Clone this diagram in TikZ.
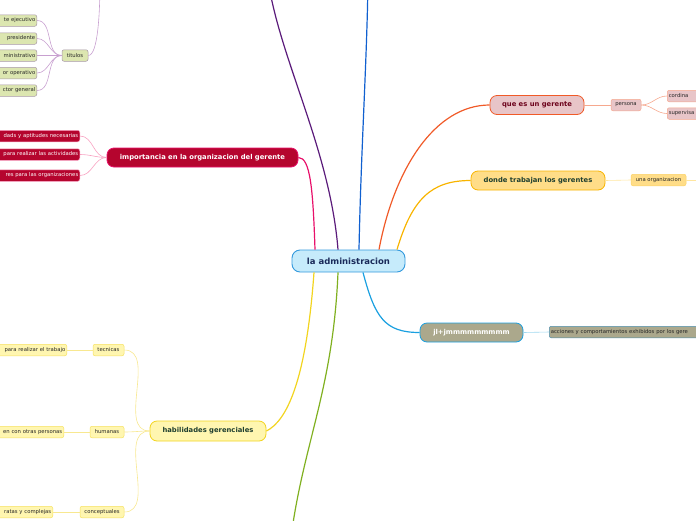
\documentclass[tikz,border=0pt]{standalone}
\usepackage{fontspec}
\setmainfont{DejaVu Sans}
\usepackage{xcolor}
\usetikzlibrary{positioning}
\definecolor{rootfill}{HTML}{C6EBFB}
\definecolor{rootline}{HTML}{3399DD}
\definecolor{roottext}{HTML}{1A2A5A}
\definecolor{quefill}{HTML}{E8C5C8}
\definecolor{queline}{HTML}{F05A28}
\definecolor{quelight}{HTML}{F6A88E}
\definecolor{dondefill}{HTML}{FFDD88}
\definecolor{dondeline}{HTML}{F8B400}
\definecolor{dondelight}{HTML}{FFE6A0}
\definecolor{jlfill}{HTML}{ABA88C}
\definecolor{jlline}{HTML}{1AA0E0}
\definecolor{jllight}{HTML}{A0D8F0}
\definecolor{habfill}{HTML}{FFF6B0}
\definecolor{habline}{HTML}{F2D41E}
\definecolor{hablight}{HTML}{F8E890}
\definecolor{impfill}{HTML}{B5052E}
\definecolor{impline}{HTML}{E8106A}
\definecolor{implight}{HTML}{F8A0C0}
\definecolor{titfill}{HTML}{DCE6B0}
\definecolor{titline}{HTML}{A898A8}
\definecolor{titlight}{HTML}{C8A0D0}
\definecolor{purpleline}{HTML}{5A1A7A}
\definecolor{blueline}{HTML}{1060D0}
\definecolor{greenline}{HTML}{80B020}
\definecolor{darkgreen}{HTML}{1F3F2F}
\tikzset{
  root/.style={rectangle, draw=rootline, fill=rootfill, rounded corners=8pt, line width=0.9pt, text=roottext, font=\fontsize{8.5}{9}\selectfont\bfseries, minimum width=113pt, minimum height=22pt, inner sep=2pt},
  topic/.style={rectangle, rounded corners=7pt, line width=0.8pt, font=\fontsize{6.8}{7}\selectfont\bfseries, minimum height=19pt, inner sep=2pt},
  leaf/.style={rectangle, rounded corners=2pt, line width=0.5pt, text=black!85, font=\fontsize{5.3}{6}\selectfont, minimum height=11.5pt, inner sep=1.5pt},
  cutleft/.style={anchor=east, text width=100pt, align=right},
  cutright/.style={anchor=west, text width=200pt, align=left},
  queleaf/.style={leaf, fill=quefill, draw=quelight},
  dondeleaf/.style={leaf, fill=dondefill, draw=dondeline!60},
  jlleaf/.style={leaf, fill=jlfill, draw=jlline!50!gray},
  hableaf/.style={leaf, fill=habfill, draw=habline!70},
  impleaf/.style={leaf, fill=impfill, draw=implight, text=white},
  titleaf/.style={leaf, fill=titfill, draw=titline},
  branch/.style={line width=1.2pt},
  twig/.style={line width=0.6pt},
}
\begin{document}
\begin{tikzpicture}[x=1pt, y=-1pt]
        \useasboundingbox (0,0) rectangle (696,520);
        \clip (0,0) rectangle (696,520);

        % Central topic
        \node[root] (admin) at (348.5,261) {la administracion};

        % que es un gerente
        \node[topic, fill=quefill, draw=queline, text=impfill!60!black, minimum width=94pt] (que) at (537,105) {que es un gerente};
        \node[queleaf, minimum width=30pt] (persona) at (626,105) {persona};
        \node[queleaf, cutright] (cordina) at (667,96) {cordina};
        \node[queleaf, cutright] (supervisa) at (667,113.5) {supervisa};

        % donde trabajan los gerentes
        \node[topic, fill=dondefill, draw=dondeline, text=darkgreen, minimum width=134pt] (donde) at (538,180.5) {donde trabajan los gerentes};
        \node[dondeleaf, minimum width=55pt] (org) at (658.5,180) {una organizacion};
        \coordinate (orgnext) at (720,180);

        % jl+jmmmmmmmmm
        \node[topic, fill=jlfill, draw=jlline, text=white, minimum width=103pt] (jl) at (471.5,332.5) {jl+jmmmmmmmmm};
        \node[jlleaf, cutright] (acciones) at (549,332) {acciones y comportamientos exhibidos por los gere};

        % habilidades gerenciales
        \node[topic, fill=habfill, draw=habline, text=darkgreen, minimum width=116pt, minimum height=20pt] (habil) at (208,431) {habilidades gerenciales};
        \node[hableaf, minimum width=31pt] (tecnicas) at (108.5,350) {tecnicas};
        \node[hableaf, minimum width=34pt] (humanas) at (107,432) {humanas};
        \node[hableaf, minimum width=44pt] (concep) at (102,512) {conceptuales};
        \node[hableaf, cutleft] (trabajo) at (67,350) {para realizar el trabajo};
        \node[hableaf, cutleft] (personas) at (64,432) {en con otras personas};
        \node[hableaf, cutleft] (complejas) at (53,512) {ratas y complejas};

        % importancia en la organizacion del gerente
        \node[topic, fill=impfill, draw=impline, text=white, minimum width=191pt] (imp) at (202.5,157.5) {importancia en la organizacion del gerente};
        \node[impleaf, cutleft] (aptitudes) at (80,136) {dads y aptitudes necesarias};
        \node[impleaf, cutleft] (actividades) at (80,154.5) {para realizar las actividades};
        \node[impleaf, cutleft] (organizaciones) at (80,175.5) {res para las organizaciones};

        % titulos
        \node[titleaf, minimum width=26pt] (titulos) at (75,55.5) {titulos};
        \node[titleaf, cutleft] (ejecutivo) at (37,20.5) {te ejecutivo};
        \node[titleaf, cutleft] (presidente) at (37,38.5) {presidente};
        \node[titleaf, cutleft] (administrativo) at (37,55.5) {ministrativo};
        \node[titleaf, cutleft] (operativo) at (37,73) {or operativo};
        \node[titleaf, cutleft] (general) at (37,90.5) {ctor general};

        % topics outside the frame
        \coordinate (toppurple) at (268,-20);
        \coordinate (topblue) at (368,-20);
        \coordinate (toptitulos) at (100,-20);
        \coordinate (botgreen) at (290,545);

        % Main branches
        \draw[branch, impline] (imp.east) .. controls +(12,0) and +(-2,-60) .. ([xshift=-33.5pt]admin.north);
        \draw[branch, purpleline] ([xshift=-10.5pt]admin.north) .. controls +(-8,-100) and +(12,80) .. (toppurple);
        \draw[branch, blueline] ([xshift=10.5pt]admin.north) .. controls +(2,-100) and +(-1,80) .. (topblue);
        \draw[branch, queline] ([xshift=30.5pt]admin.north) .. controls +(15,-80) and +(-55,0) .. (que.west);
        \draw[branch, dondeline] ([xshift=48.5pt]admin.north) .. controls +(15,-50) and +(-40,0) .. (donde.west);
        \draw[branch, jlline] ([xshift=14.5pt]admin.south) .. controls +(12,45) and +(-35,0) .. (jl.west);
        \draw[branch, habline] ([xshift=-34.5pt]admin.south) .. controls +(-8,110) and +(20,-10) .. (habil.east);
        \draw[branch, greenline] ([xshift=-10.5pt]admin.south) .. controls +(-5,120) and +(12,-100) .. (botgreen);
        \draw[twig, titlight] (titulos.east) .. controls +(10,0) and +(0,30) .. (toptitulos);

        % Sub branches
        \draw[twig, quelight] (que.east) -- (persona.west);
        \draw[twig, quelight] (persona.east) to[out=0, in=180] (cordina.west);
        \draw[twig, quelight] (persona.east) to[out=0, in=180] (supervisa.west);
        \draw[twig, dondelight] (donde.east) -- (org.west);
        \draw[twig, dondelight] (org.east) -- (orgnext);
        \draw[twig, jllight] (jl.east) -- (acciones.west);
        \draw[twig, hablight] (habil.west) to[out=180, in=0] (tecnicas.east);
        \draw[twig, hablight] (habil.west) to[out=180, in=0] (humanas.east);
        \draw[twig, hablight] (habil.west) to[out=180, in=0] (concep.east);
        \draw[twig, hablight] (tecnicas.west) -- (trabajo.east);
        \draw[twig, hablight] (humanas.west) -- (personas.east);
        \draw[twig, hablight] (concep.west) -- (complejas.east);
        \draw[twig, implight] (imp.west) to[out=180, in=0] (aptitudes.east);
        \draw[twig, implight] (imp.west) to[out=180, in=0] (actividades.east);
        \draw[twig, implight] (imp.west) to[out=180, in=0] (organizaciones.east);
        \draw[twig, titlight] (titulos.west) to[out=180, in=0] (ejecutivo.east);
        \draw[twig, titlight] (titulos.west) to[out=180, in=0] (presidente.east);
        \draw[twig, titlight] (titulos.west) to[out=180, in=0] (administrativo.east);
        \draw[twig, titlight] (titulos.west) to[out=180, in=0] (operativo.east);
        \draw[twig, titlight] (titulos.west) to[out=180, in=0] (general.east);
        \end{tikzpicture}
\end{document}
